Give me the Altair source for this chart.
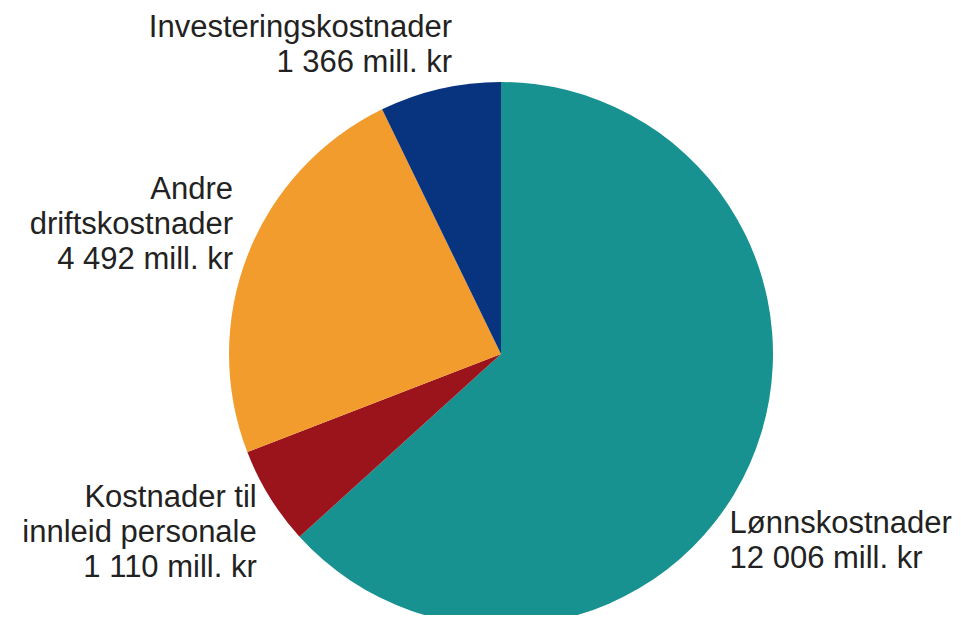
import math
import altair as alt
import pandas as pd

categories = ["Lønnskostnader", "Kostnader til innleid personale",
              "Andre driftskostnader", "Investeringskostnader"]
values = [12006, 1110, 4492, 1366]
labels = ["Lønnskostnader\n12 006 mill. kr",
          "Kostnader til\ninnleid personale\n1 110 mill. kr",
          "Andre\ndriftskostnader\n4 492 mill. kr",
          "Investeringskostnader\n1 366 mill. kr"]
colors = ["#189290", "#9b141b", "#f29c2e", "#08347f"]

df = pd.DataFrame({"category": categories, "value": values,
                   "label": labels, "order": list(range(len(categories)))})

CX, CY = 493, 346  # pie centre inside the plot area
RADIUS = 272

base = alt.Chart(df)

pie = base.mark_arc(radius=RADIUS).encode(
    theta=alt.Theta("value:Q", stack=True),
    order=alt.Order("order:Q"),
    color=alt.Color("category:N", scale=alt.Scale(domain=categories, range=colors), legend=None),
    x=alt.value(CX),
    y=alt.value(CY),
)


def label_layer(cat, r, align, dx, dy):
    return (
        base.transform_window(cum="sum(value)", sort=[alt.SortField("order")])
        .transform_joinaggregate(total="sum(value)")
        .transform_calculate(mid="2*PI*(datum.cum - datum.value/2)/datum.total")
        .transform_filter(alt.datum.category == cat)
        .mark_text(align=align, baseline="alphabetic", dx=dx, dy=dy,
                   fontSize=31, lineHeight=35, lineBreak="\n",
                   font="Liberation Sans", color="#222222")
        .encode(theta=alt.Theta("mid:Q", scale=None),
                radius=alt.value(r),
                text="label:N",
                x=alt.value(CX), y=alt.value(CY))
    )


chart = alt.layer(
    pie,
    label_layer("Lønnskostnader", 250, "left", 0, 78),
    label_layer("Kostnader til innleid personale", 287, "right", 0, 2),
    label_layer("Andre driftskostnader", 288, "right", 0, -50),
    label_layer("Investeringskostnader", 325, "right", 24, 0),
).properties(
    width=945, height=607, padding=0,
    autosize=alt.AutoSizeParams(type="none"),
).configure_view(stroke=None)

chart.save("out.html", embed_options={"renderer": "svg", "actions": False})
